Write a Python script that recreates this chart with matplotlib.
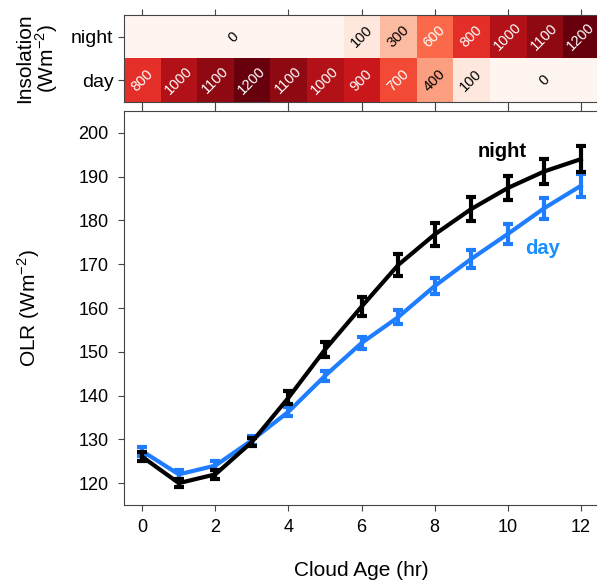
import numpy as np
import matplotlib.pyplot as plt
from matplotlib.colors import Normalize

plt.rcParams["font.family"] = ["Liberation Sans", "DejaVu Sans"]
plt.rcParams["mathtext.fontset"] = "custom"
plt.rcParams["mathtext.rm"] = "Liberation Sans"

# cloud age (hr)
age = [0, 1, 2, 3, 4, 5, 6, 7, 8, 9, 10, 11, 12]

# OLR (W m-2) and error bar half-widths
olr_night = [126, 120, 122, 129.4, 139.5, 150.5, 160.3, 169.8, 176.8, 182.6, 187.4, 191.2, 194]
err_night = [1, 1, 1, 1, 1.5, 1.8, 2.2, 2.5, 2.6, 2.7, 2.8, 2.8, 3]
olr_day = [127.3, 122, 124, 129.8, 136.3, 144.5, 152, 157.9, 165, 171.2, 176.9, 182.8, 187.9]
err_day = [1, 1, 1, 1, 1, 1.2, 1.4, 1.6, 1.8, 2, 2.2, 2.4, 2.6]

# insolation (W m-2) per cloud age
insol_night = [0, 0, 0, 0, 0, 0, 100, 300, 600, 800, 1000, 1100, 1200]
insol_day = [800, 1000, 1100, 1200, 1100, 1000, 900, 700, 400, 100, 0, 0, 0]
rows = ["night", "day"]

BLUE = "#1f7dff"
SPINE = "#444444"

fig = plt.figure(figsize=(5.97, 5.80), dpi=100)
ax_top = fig.add_axes([0.2077, 0.8241, 0.7957, 0.150])
ax = fig.add_axes([0.2077, 0.1293, 0.7957, 0.6793])

# --- insolation strip
grid = np.array([insol_night, insol_day], dtype=float)
norm = Normalize(vmin=0, vmax=1200)
ax_top.imshow(grid, cmap="Reds", norm=norm, aspect="auto",
              extent=(-0.5, 12.5, 1.5, -0.5), interpolation="nearest")
ax_top.set_xlim(-0.5, 12.5)
ax_top.set_ylim(1.5, -0.5)
ax_top.set_yticks([0, 1])
ax_top.set_yticklabels(rows, fontsize=14)
ax_top.set_xticks(range(0, 13, 2))
ax_top.tick_params(axis="x", top=True, bottom=True, labelbottom=False,
                   direction="out", length=4, color=SPINE)
ax_top.tick_params(axis="y", direction="out", length=4, color=SPINE)
ax_top.set_ylabel("Insolation\n(Wm$^{-2}$)", fontsize=15, linespacing=0.95,
                  labelpad=8)
for s in ax_top.spines.values():
    s.set_color(SPINE)


def label_row(ax_, vals, row):
    # merge runs of zeros into one label
    i = 0
    n = len(vals)
    while i < n:
        j = i
        while j + 1 < n and vals[j + 1] == vals[i] and vals[i] == 0:
            j += 1
        v = vals[i]
        col = "white" if v >= 600 else "black"
        ax_.text((i + j) / 2, row, f"{v:g}", rotation=45, ha="center",
                 va="center", color=col, fontsize=10.5,
                 rotation_mode="anchor")
        i = j + 1


label_row(ax_top, insol_night, 0)
label_row(ax_top, insol_day, 1)

# --- OLR curves
ax.errorbar(age, olr_night, yerr=err_night, color="black", lw=3,
            elinewidth=3, capsize=3.5, capthick=3, zorder=3)
ax.errorbar(age, olr_day, yerr=err_day, color=BLUE, lw=3,
            elinewidth=3, capsize=3.5, capthick=3, zorder=2)
ax.text(9.85, 195.8, "night", color="black", fontsize=14.5, weight="bold",
        ha="center", va="center")
ax.text(10.95, 173.5, "day", color="#1a8fff", fontsize=14.5, weight="bold",
        ha="center", va="center")

ax.set_xlim(-0.5, 12.5)
ax.set_ylim(115, 205)
ax.set_xticks(range(0, 13, 2))
ax.set_yticks(range(120, 201, 10))
ax.tick_params(axis="x", top=True, direction="out", length=4, color=SPINE,
               labelsize=13, pad=6)
ax.tick_params(axis="y", direction="out", length=4, color=SPINE,
               labelsize=13, pad=7)
ax.set_xlabel("Cloud Age (hr)", fontsize=15, labelpad=18)
ax.set_ylabel("OLR (Wm$^{-2}$)", fontsize=15, labelpad=26)
for s in ax.spines.values():
    s.set_color(SPINE)

plt.savefig("out.png", dpi=100)
plt.close()
